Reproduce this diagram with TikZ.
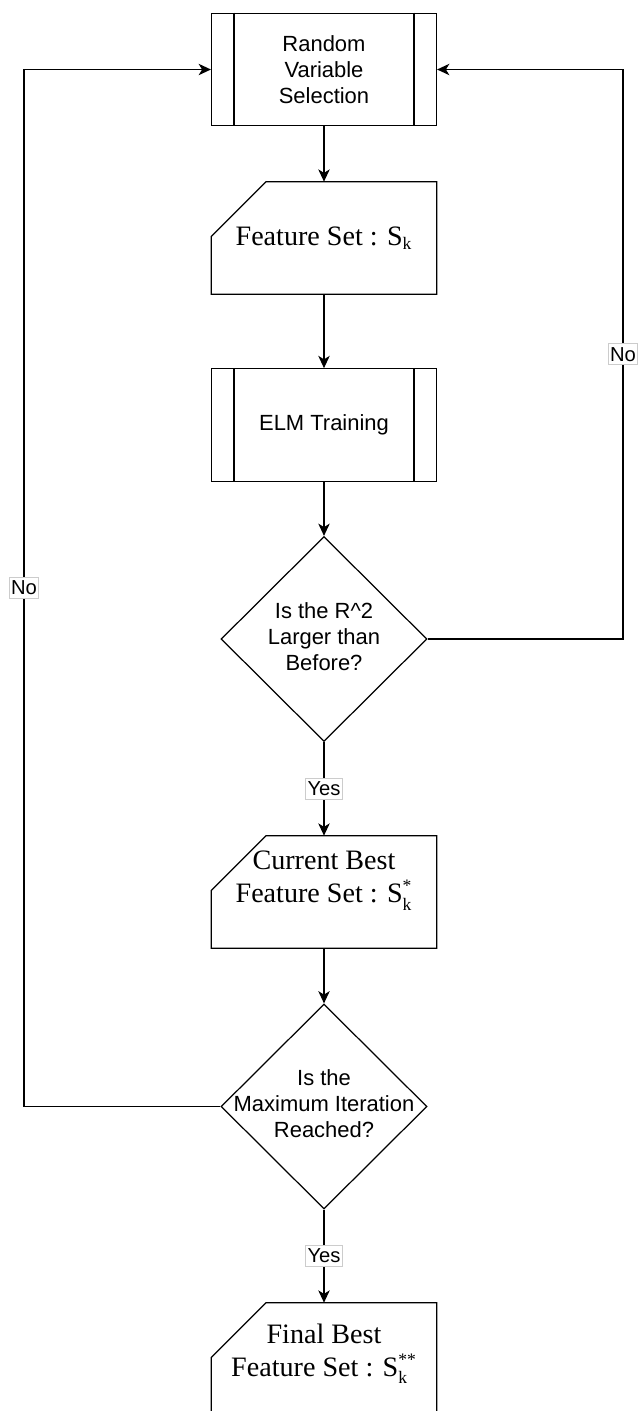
\documentclass[tikz,border=0pt]{standalone}
\usepackage{fontspec}
\setmainfont{Liberation Serif}
\setsansfont{Liberation Sans}
\usetikzlibrary{shapes.geometric, arrows.meta}
\newcommand{\subk}[1]{S$_{\mbox{\fontsize{10}{10}\selectfont k}}^{\mbox{\fontsize{10}{10}\selectfont #1}}$}

\begin{document}
\begin{tikzpicture}[x=0.02cm, y=-0.02cm, >={Stealth[length=7pt, width=6.5pt, inset=2pt]},
  process/.style={rectangle, draw, line width=0.7pt, minimum width=4.5cm, minimum height=2.25cm, align=center, font=\sffamily\fontsize{12.5}{14.7}\selectfont},
  card/.style={rectangle, minimum width=4.5cm, minimum height=2.24cm, align=center, font=\rmfamily\fontsize{16}{18.7}\selectfont},
  decision/.style={diamond, draw, line width=0.7pt, aspect=1, minimum width=4.12cm, minimum height=4.1cm, inner sep=0pt, font=\sffamily\fontsize{12.5}{14.7}\selectfont},
  lbl/.style={fill=white, draw=gray!40, line width=0.4pt, inner xsep=1pt, inner ysep=2pt, font=\sffamily\fontsize{11.5}{13}\selectfont}]

\useasboundingbox (0,0) rectangle (637,1411);

% flow down the middle

\path
(324,69.5) node[process] (sel) {Random\\Variable\\Selection}
(324,238) node[card] (feat) {Feature Set : S$_{\mbox{\fontsize{10}{10}\selectfont k}}$}
(324,425) node[process] (elm) {ELM Training}
(324,639) node[decision] (d1) {\makebox[0pt]{\begin{tabular}{c}Is the R\textasciicircum 2\\Larger than\\Before?\end{tabular}}}
(324,892) node[card, text depth=0.6cm] (cur) {Current Best\\Feature Set : \subk{*}}
(324,1106.5) node[decision] (d2) {\makebox[0pt]{\begin{tabular}{c}Is the\\Maximum Iteration\\Reached?\end{tabular}}}
(324,1359) node[card, text depth=0.35cm] (fin) {Final Best\\Feature Set : \subk{**}};

% double side bars and cut corners
\foreach \n in {sel,elm}
{
\draw[line width=0.7pt] ([xshift=0.46cm]\n.north west) -- ([xshift=0.46cm]\n.south west);
\draw[line width=0.7pt] ([xshift=-0.46cm]\n.north east) -- ([xshift=-0.46cm]\n.south east);
}
\foreach \n in {feat,cur,fin}
\draw[line width=0.7pt] ([xshift=1.1cm]\n.north west) -- (\n.north east) -- (\n.south east)
 -- (\n.south west) -- ([yshift=-1.1cm]\n.north west) -- cycle;

\draw[->, line width=0.8pt] (sel) -- (feat);
\draw[->, line width=0.8pt] (feat) -- (elm);
\draw[->, line width=0.8pt] (elm) -- (d1);
\draw[->, line width=0.8pt] (d1) -- node[lbl]{Yes} (cur);
\draw[->, line width=0.8pt] (cur) -- (d2);
\draw[->, line width=0.8pt] (d2) -- node[lbl]{Yes} (fin);

% loops back to the top
\coordinate (rx) at (623,0);
\coordinate (lx) at (24,0);
\draw[->, line width=0.8pt] (d1.east) -- (d1.east -| rx) -- node[lbl]{No} (sel.east -| rx) -- (sel.east);
\draw[->, line width=0.8pt] (d2.west) -- (d2.west -| lx) -- node[lbl]{No} (sel.west -| lx) -- (sel.west);

\end{tikzpicture}
\end{document}
